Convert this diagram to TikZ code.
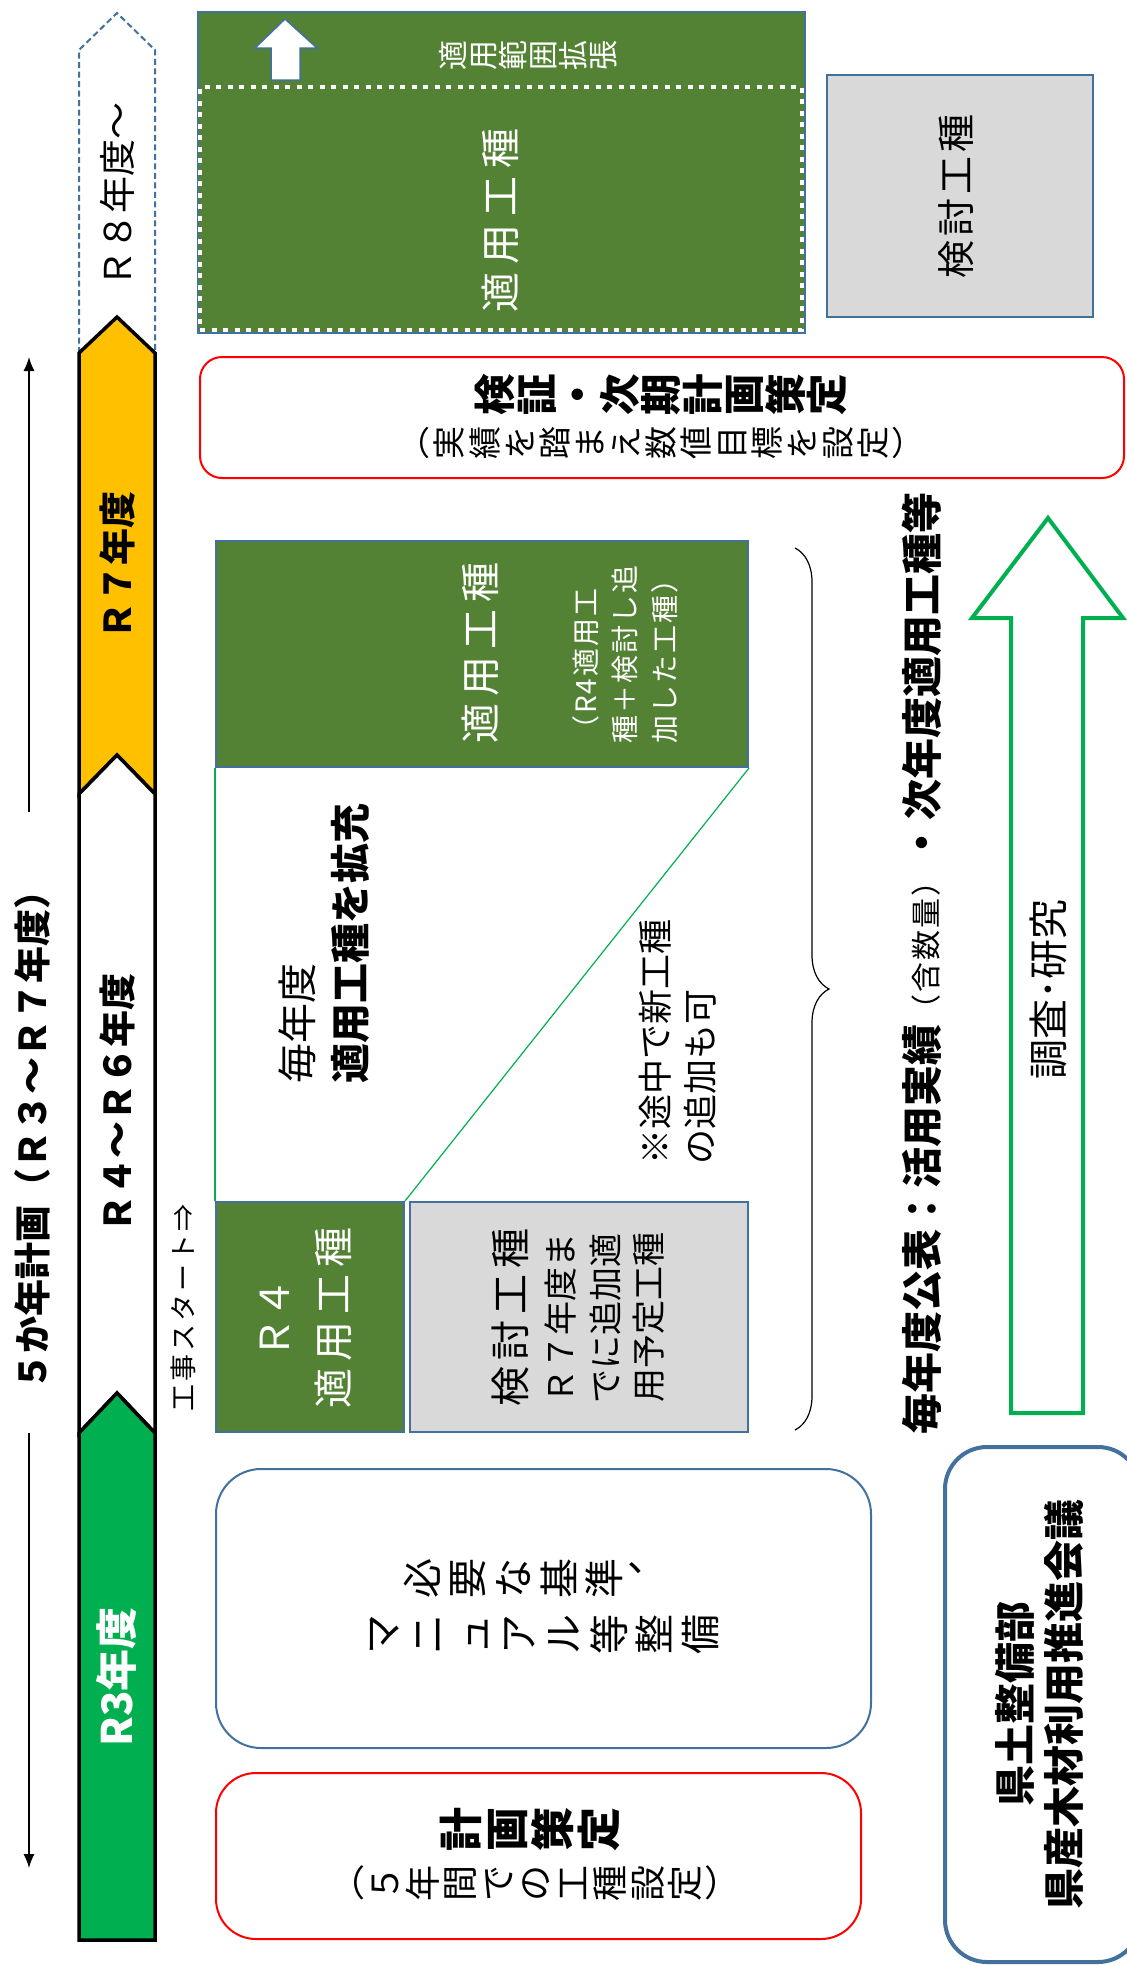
\documentclass[tikz,border=0pt]{standalone}
\usepackage{fontspec}
\setmainfont{Noto Sans CJK JP}
\usepackage{graphicx}
\usetikzlibrary{arrows.meta,decorations.pathreplacing}

\definecolor{dkgreen}{HTML}{548235}
\definecolor{edgeblue}{HTML}{41719C}
\definecolor{boxgray}{HTML}{D9D9D9}
\definecolor{brgreen}{HTML}{00B050}
\definecolor{amber}{HTML}{FFC000}
\definecolor{pred}{HTML}{FF0000}

% vertical (tategaki) text turned 90 degrees: each glyph rotated
\def\vcsp{1em}
\newcommand\vglyph[1]{\makebox[\vcsp]{\rotatebox[origin=c]{90}{\makebox[1em]{\rule[-0.12em]{0pt}{1em}#1}}}}
\def\vone#1{%
  \ifx（#1\makebox[\vcsp]{（}%
  \else\ifx）#1\makebox[\vcsp]{）}%
  \else\ifx、#1\makebox[\vcsp][l]{\raisebox{0.55em}{、}}%
  \else\vglyph{#1}\fi\fi\fi}
\def\vA#1{\ifx\relax#1\else\vone{#1}\expandafter\vA\fi}
\newcommand\vtext[1]{\vA#1\relax}
% letter-spaced text
\def\lsp{0pt}
\def\hA#1{\ifx\relax#1\else#1\kern\lsp\relax\expandafter\hA\fi}
\newcommand\hs[2]{\def\lsp{#1}\hA#2\relax\kern-#1\relax}

\tikzset{
  jt/.style={inner sep=0pt, rotate=90},
  vt/.style={inner sep=0pt},
  gbox/.style={draw=edgeblue, line width=2pt, fill=dkgreen, inner sep=0pt},
  graybox/.style={draw=edgeblue, line width=2pt, fill=boxgray, inner sep=0pt},
  redbox/.style={draw=pred, line width=2pt, fill=white, rounded corners=#1, inner sep=0pt},
  bluebox/.style={draw=edgeblue, fill=white, rounded corners=#1, inner sep=0pt},
  tline/.style={draw=black, line width=3.5pt, line join=miter},
}

\begin{document}
\begin{tikzpicture}[x=1pt,y=-1pt]
\useasboundingbox (0,0) rectangle (1127,1966);
\fill[white] (0,0) rectangle (1127,1966);
\clip (0,0) rectangle (1127,1966);

% ---------- left time arrow ----------
\coordinate (ta) at (29,357);
\coordinate (tb) at (29,812);
\coordinate (bb) at (29,1433);
\coordinate (ba) at (29,1868);
\draw[line width=1.3pt, -{Latex[length=14pt,width=11pt]}] (tb) -- (ta);
\draw[line width=1.3pt, -{Latex[length=14pt,width=11pt]}] (bb) -- (ba);
\node[jt, font=\bfseries\fontsize{37}{37}\selectfont] (plan) at (32,1131) {５か年計画（Ｒ３～Ｒ７年度）};

% ---------- timeline bar ----------
\draw[edgeblue, line width=2pt, dash pattern=on 6pt off 3.5pt]
  (79,353) -- (79,50) -- (117,13) -- (155,50) -- (155,353);
\draw[tline, fill=amber]
  (79,794) -- (79,353) -- (117,317) -- (155,353) -- (155,794) -- (117,755) -- cycle;
\draw[tline, fill=white]
  (79,1433) -- (79,794) -- (117,755) -- (155,794) -- (155,1433) -- (117,1393) -- cycle;
\draw[tline, fill=brgreen]
  (79,1940) -- (79,1433) -- (117,1393) -- (155,1433) -- (155,1940) -- cycle;
\node[jt, font=\fontsize{37}{37}\selectfont] (r8) at (117,195) {Ｒ８年度～};
\node[jt, font=\bfseries\fontsize{37}{37}\selectfont] (r7) at (117,565) {Ｒ７年度};
\node[jt, font=\bfseries\fontsize{37}{37}\selectfont] (r46) at (117,1103) {Ｒ４～Ｒ６年度};
\node[jt, text=white, font=\bfseries\fontsize{42}{42}\selectfont] (r3) at (117,1677) {R3年度};

% ---------- top area (R8) ----------
\node[gbox, minimum width=607, minimum height=321] (A) at (501.5,172.5) {};
\node[draw=white, fill=dkgreen, line width=4.5pt, dash pattern=on 5pt off 6.5pt, inner sep=0pt,
      minimum width=602, minimum height=243] (B) at (501,208.5) {};
\draw[edgeblue, line width=1.5pt, fill=white]
  (285,19) -- (317,48) -- (300,48) -- (300,80) -- (271,80) -- (271,48) -- (255,48) -- cycle;
\node[vt, text=white, font=\fontsize{30}{30}\selectfont] (ext) at (528,55) {\vtext{適用範囲拡張}};
\node[jt, text=white, font=\fontsize{40}{40}\selectfont] (ap1) at (500,220) {\hs{8pt}{適用工種}};

\node[graybox, minimum width=266, minimum height=242] (D) at (960,196) {};
\node[jt, font=\fontsize{38}{38}\selectfont] (kt1) at (956,196) {\hs{4pt}{検討工種}};

% ---------- verification box ----------
\node[redbox=22pt, minimum width=924, minimum height=121] (E) at (662,417.5) {};
\node[vt, font=\bfseries\fontsize{41.5}{41.5}\selectfont] (kv1) at (661,395) {\vtext{検証・次期計画策定}};
\node[vt, font=\fontsize{33}{33}\selectfont] (kv2) at (661,443) {\def\vcsp{35.3pt}\vtext{（実績を踏まえ数値目標を設定）}};

% ---------- R7 applied box ----------
\node[gbox, minimum width=532, minimum height=226] (F) at (482,654) {};
\node[jt, text=white, font=\fontsize{40}{40}\selectfont] (ap2) at (480,653) {\hs{7pt}{適用工種}};
\node[jt, text=white, align=left, anchor=west, font=\fontsize{28}{39.5}\selectfont] (ap2n) at (625,744)
  {\hs{2pt}{（R4適用工}\\\hs{2pt}{種＋検討し追}\\\hs{2pt}{加した工種）}};

% ---------- R4 boxes ----------
\node[gbox, minimum width=188, minimum height=230] (G) at (310,1317) {};
\node[graybox, minimum width=338, minimum height=230] (H) at (579,1317) {};
\draw[brgreen, line width=1.2pt] (F.south west) -- (G.north west);
\draw[brgreen, line width=1.2pt] (F.south east) -- (G.north east);

\node[jt, text=white, align=center, font=\fontsize{40}{59}\selectfont] (r4t) at (306,1318)
  {Ｒ４\\\hs{7pt}{適用工種}};
\node[jt, font=\fontsize{40}{40}\selectfont] (gk1) at (510,1317) {\hs{6pt}{検討工種}};
\node[jt, font=\fontsize{34}{34}\selectfont] (gk2) at (561,1318) {Ｒ７年度ま};
\node[jt, font=\fontsize{34}{34}\selectfont] (gk3) at (606,1318) {でに追加適};
\node[jt, font=\fontsize{34}{34}\selectfont] (gk4) at (649,1317) {用予定工種};

\node[jt, align=left, anchor=west, font=\fontsize{40}{53}\selectfont] (ex) at (324,1084)
  {毎年度\\\textbf{適用工種を拡充}};
\node[jt, align=left, anchor=west, font=\fontsize{35}{45}\selectfont] (note) at (678,1165)
  {※途中で新工種\\の追加も可};
\node[jt, font=\fontsize{27}{27}\selectfont] (start) at (183,1308) {\hs{3pt}{工事スタート⇒}};

% brace
\coordinate (brt) at (795,548);
\coordinate (brb) at (795,1430);
\draw[decorate, decoration={brace, amplitude=34pt}, line width=1.2pt] (brt) -- (brb);

% ---------- right column ----------
\node[jt] (pub) at (922,963.5)
  {{\bfseries\fontsize{41}{41}\selectfont 毎年度公表：活用実績}{\fontsize{30}{30}\selectfont\hs{2pt}{（含数量）}}\kern3pt{\bfseries\fontsize{41}{41}\selectfont ・\kern2pt 次年度適用工種等}};

\draw[brgreen, line width=4pt, fill=white, line join=miter]
  (1048,518) -- (1123,618) -- (1083,618) -- (1083,1413) -- (1011,1413) -- (1011,618) -- (972,618) -- cycle;
\node[jt, font=\fontsize{40}{40}\selectfont] (res) at (1048,989) {調査･研究};

\node[bluebox=42pt, line width=4pt, minimum width=195, minimum height=515] (J) at (1042.5,1704.5) {};
\node[jt, align=center, font=\bfseries\fontsize{41}{49}\selectfont] (org) at (1040,1704)
  {県土整備部\\県産木材利用推進会議};

% ---------- bottom boxes ----------
\node[bluebox=45pt, line width=2pt, minimum width=655, minimum height=279] (K) at (543.5,1608.5) {};
\node[vt, font=\fontsize{40}{40}\selectfont] (std1) at (536,1578) {\def\vcsp{45.6pt}\vtext{必要な基準、}};
\node[vt, font=\fontsize{40}{40}\selectfont] (std2) at (541,1634) {\def\vcsp{45.4pt}\vtext{マニュアル等整備}};

\node[redbox=40pt, minimum width=645, minimum height=166] (L) at (538.5,1856) {};
\node[vt, font=\bfseries\fontsize{44}{44}\selectfont] (pl1) at (530,1829) {\def\vcsp{46pt}\vtext{計画策定}};
\node[vt, font=\fontsize{36}{36}\selectfont] (pl2) at (535,1883) {\def\vcsp{37.5pt}\vtext{（５年間での工種設定）}};

\end{tikzpicture}
\end{document}
